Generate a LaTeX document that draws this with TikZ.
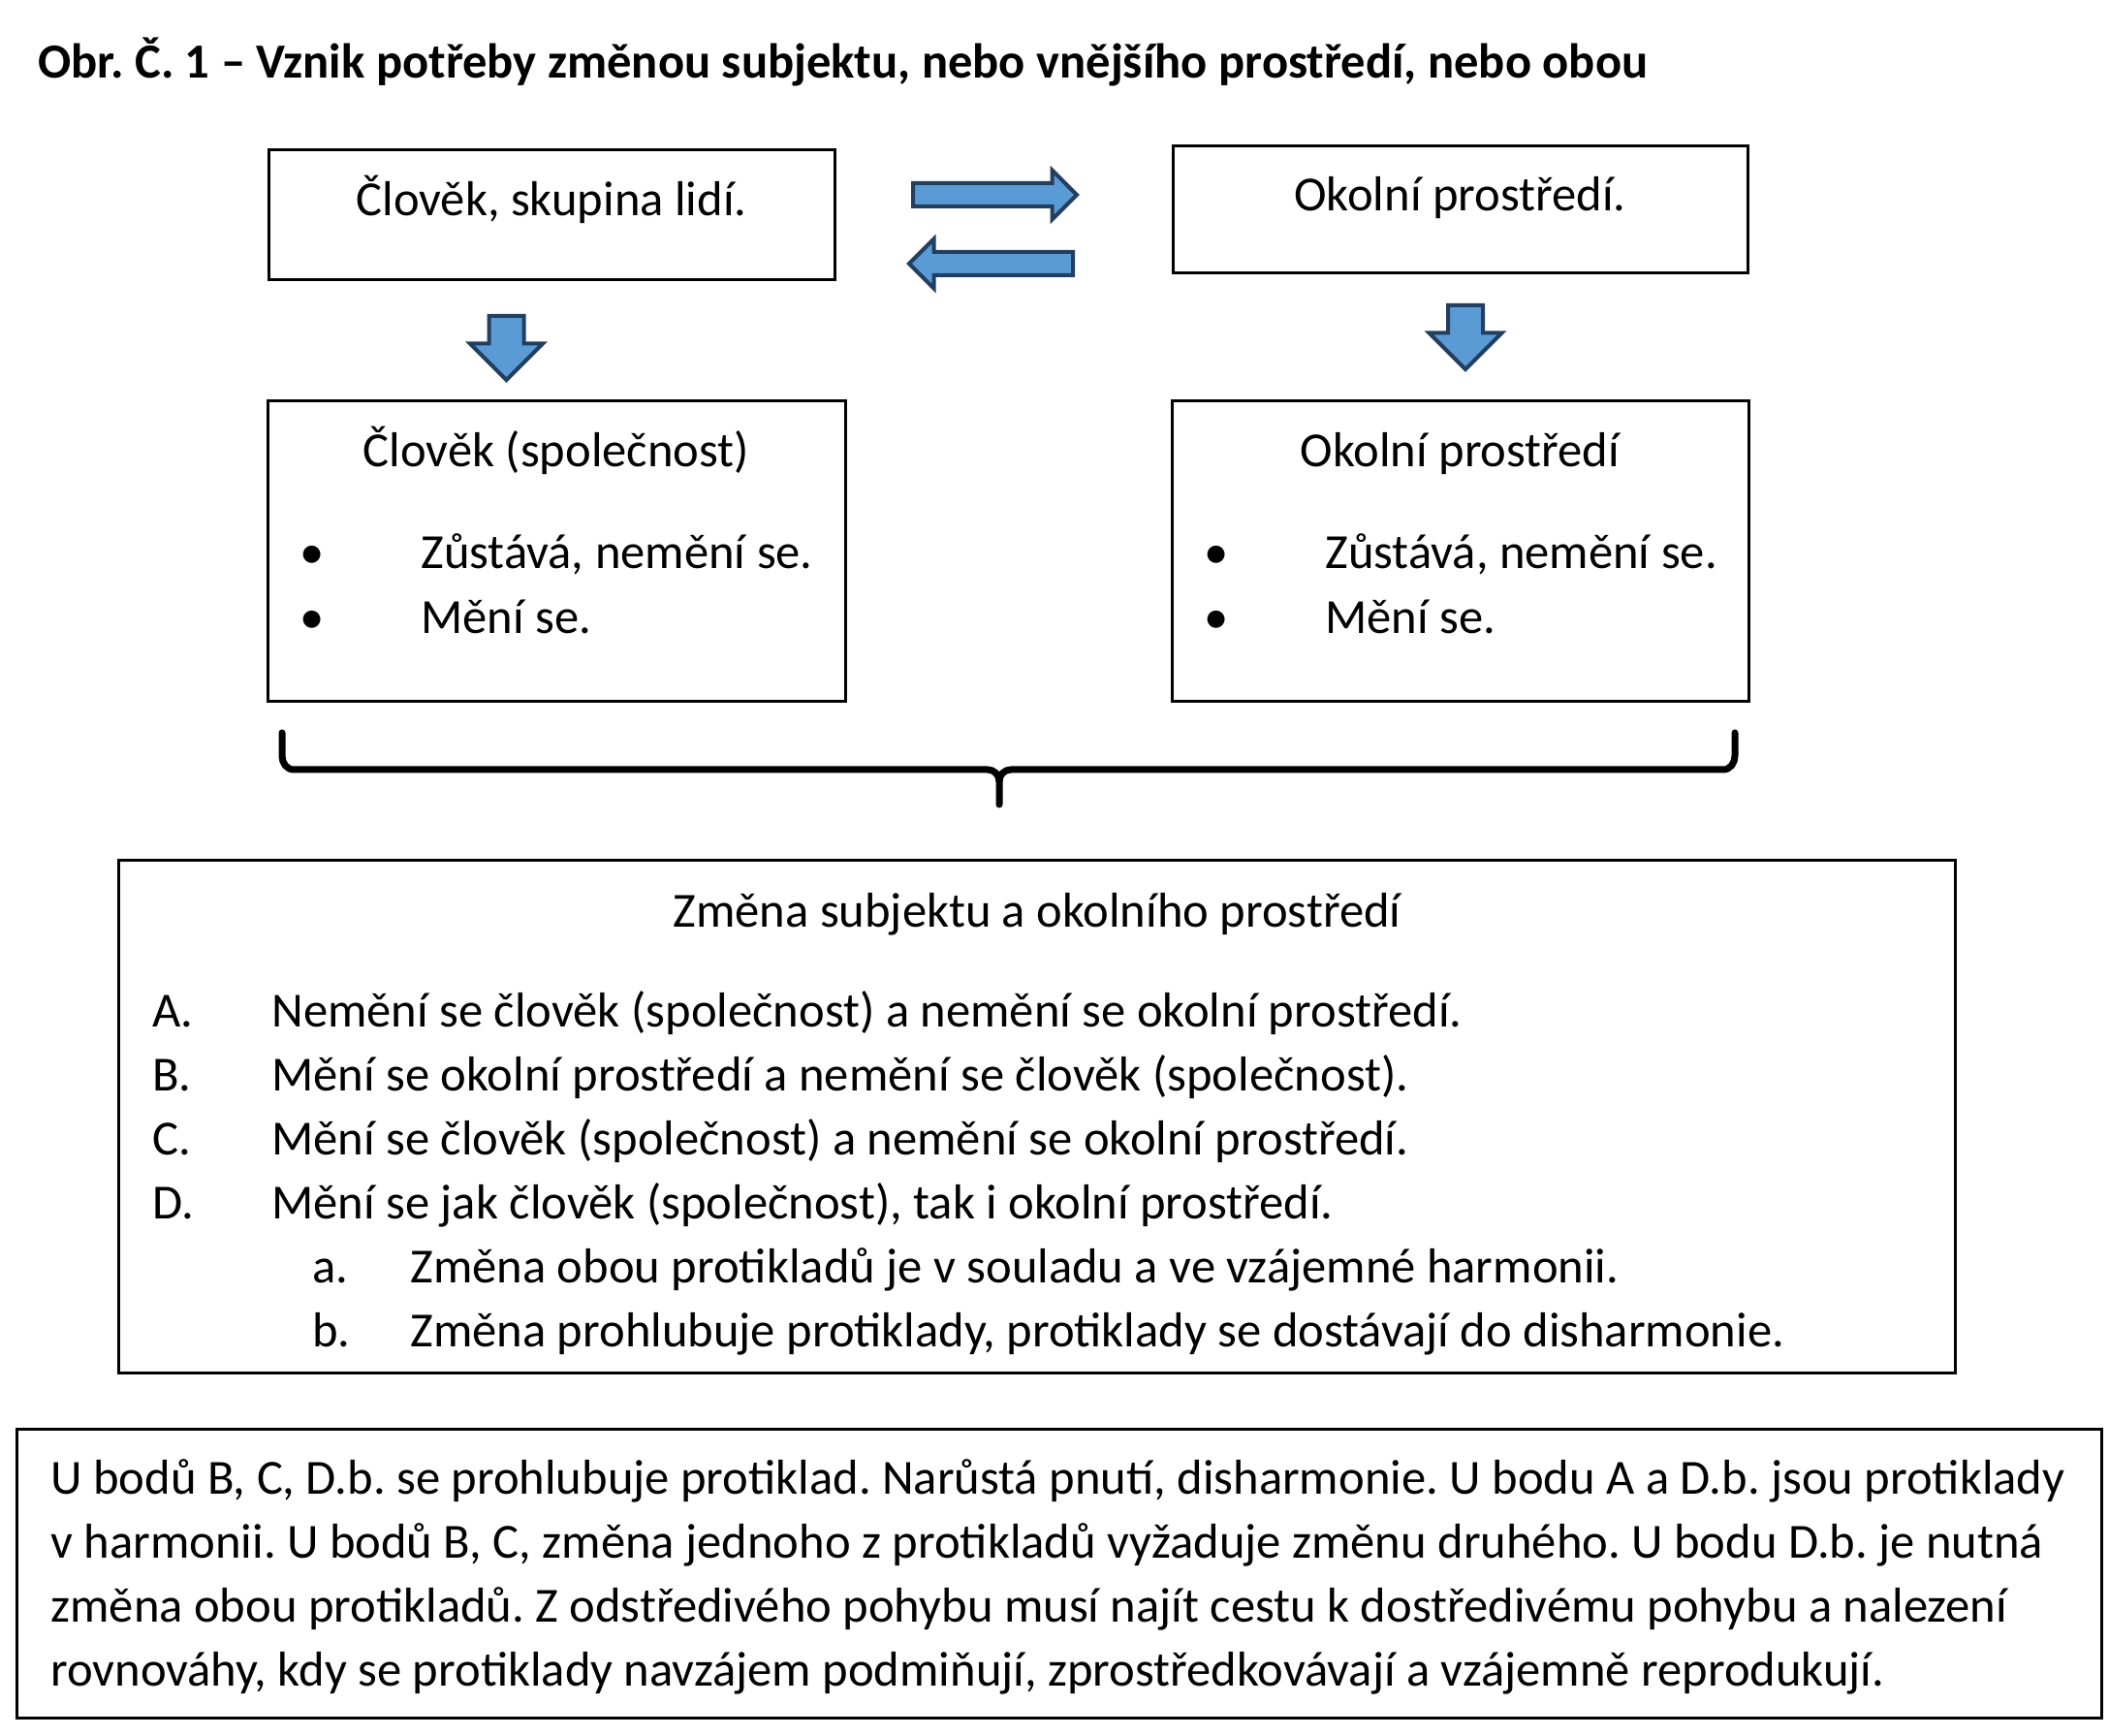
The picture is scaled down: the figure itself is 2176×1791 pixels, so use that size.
\documentclass[tikz,border=0pt]{standalone}
\usepackage{fontspec}
\setmainfont{Carlito}
\usetikzlibrary{shapes.arrows}

\definecolor{arrowfill}{HTML}{5B9BD5}
\definecolor{arrowline}{HTML}{223F5F}

\begin{document}
\frenchspacing
\begin{tikzpicture}[
  x=0.5pt,y=-0.5pt,
  every node/.style={font=\fontsize{25.3}{33}\selectfont,inner sep=0pt},
  box/.style={draw,line width=1.5pt},
  txt/.style={anchor=base west},
  ctxt/.style={anchor=base},
  blockarrow/.style={single arrow,draw=arrowline,fill=arrowfill,line width=2pt,
    minimum width=0pt,inner xsep=0pt,anchor=tail},
  sidearrow/.style={blockarrow,inner ysep=5pt,single arrow head extend=6.75pt,
    minimum height=84.5pt},
  downarrow/.style={blockarrow,inner ysep=8pt,single arrow head extend=9.75pt,
    minimum height=33pt,rotate=-90},
  brace/.style={line width=3.5pt,line cap=round,line join=round}
]
\useasboundingbox (0,0) rectangle (2176,1791);

% Title
\node[txt,font=\fontsize{25.3}{33}\selectfont\bfseries] (title) at (39,81)
  {Obr. Č. 1 – Vznik potřeby změnou subjektu, nebo vnějšího prostředí, nebo obou};

% Upper boxes
\node[box,minimum width=292pt,minimum height=67pt] (clovek) at (569,222) {};
\node[ctxt] (clovektxt) at (569,223) {Člověk, skupina lidí.};
\node[box,minimum width=296.5pt,minimum height=65.5pt] (okoli) at (1506.5,216.5) {};
\node[ctxt] (okolitxt) at (1506.5,218) {Okolní prostředí.};

% Interaction arrows
\node[sidearrow] (tam) at (940,201) {};
\node[sidearrow,shape border rotate=180] (zpet) at (1109,272) {};

% Down arrows
\node[downarrow] (dolu1) at (522.5,324) {};
\node[downarrow] (dolu2) at (1512,313) {};

% Middle boxes
\node[box,minimum width=298pt,minimum height=155pt] (spol) at (574,569) {};
\node[ctxt] (spoltit) at (574,482) {Člověk (společnost)};
\node[ctxt] (spolb1) at (322,587) {•};
\node[txt] (spolt1) at (434,587) {Zůstává, nemění se.};
\node[ctxt] (spolb2) at (322,654) {•};
\node[txt] (spolt2) at (434,654) {Mění se.};

\node[box,minimum width=297.5pt,minimum height=155pt] (prost) at (1506.5,569) {};
\node[ctxt] (prosttit) at (1506.5,482) {Okolní prostředí};
\node[ctxt] (prostb1) at (1255,587) {•};
\node[txt] (prostt1) at (1367,587) {Zůstává, nemění se.};
\node[ctxt] (prostb2) at (1255,654) {•};
\node[txt] (prostt2) at (1367,654) {Mění se.};

% Brace
\draw[brace] (291,756) -- (291,780) to[out=-90,in=180] (303,794) -- (1019,794)
  to[out=0,in=90] (1031,806) -- (1031,830);
\draw[brace] (1790,756) -- (1790,780) to[out=-90,in=0] (1778,794) -- (1043,794)
  to[out=180,in=90] (1031,806);

% Change box
\node[box,minimum width=947.5pt,minimum height=264pt] (zmena) at (1069.5,1152) {};
\node[ctxt] (zmenatit) at (1070,957) {Změna subjektu a okolního prostředí};
\node[txt] (la) at (157,1059) {A.};
\node[txt] (ta) at (280,1059) {Nemění se člověk (společnost) a nemění se okolní prostředí.};
\node[txt] (lb) at (157,1125) {B.};
\node[txt] (tb) at (280,1125) {Mění se okolní prostředí a nemění se člověk (společnost).};
\node[txt] (lc) at (157,1191) {C.};
\node[txt] (tc) at (280,1191) {Mění se člověk (společnost) a nemění se okolní prostředí.};
\node[txt] (ld) at (157,1257) {D.};
\node[txt] (td) at (280,1257) {Mění se jak člověk (společnost), tak i okolní prostředí.};
\node[txt] (lda) at (322,1323) {a.};
\node[txt] (tda) at (423,1323) {Změna obou protikladů je v souladu a ve vzájemné harmonii.};
\node[txt] (ldb) at (322,1389) {b.};
\node[txt] (tdb) at (423,1389) {Změna prohlubuje protiklady, protiklady se dostávají do disharmonie.};

% Summary box
\node[box,minimum width=1075.5pt,minimum height=149pt] (shrnuti) at (1092.5,1623) {};
\node[txt] (s1) at (52,1541) {U bodů B, C, D.b. se prohlubuje protiklad. Narůstá pnutí, disharmonie. U bodu A a D.b. jsou protiklady};
\node[txt] (s2) at (52,1607) {v harmonii. U bodů B, C, změna jednoho z protikladů vyžaduje změnu druhého. U bodu D.b. je nutná};
\node[txt] (s3) at (52,1673) {změna obou protikladů. Z odstředivého pohybu musí najít cestu k dostředivému pohybu a nalezení};
\node[txt] (s4) at (52,1739) {rovnováhy, kdy se protiklady navzájem podmiňují, zprostředkovávají a vzájemně reprodukují.};
\end{tikzpicture}
\end{document}
